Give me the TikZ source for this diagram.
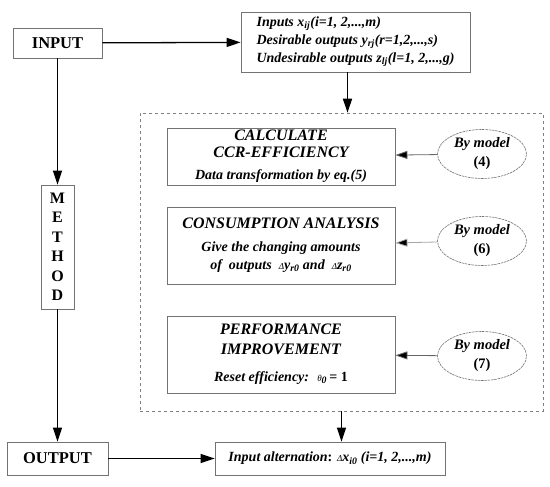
\documentclass[tikz,border=0pt]{standalone}
\usepackage{fontspec}
\setmainfont{Liberation Serif}
\usepackage{tikz}
\usetikzlibrary{arrows.meta,shapes.geometric}

\newcommand\hdfont{\fontsize{16}{16}\selectfont}
\newcommand\bdfont{\fontsize{14}{18}\selectfont}

\begin{document}
\begin{tikzpicture}[x=1pt,y=-1pt,
  box/.style={draw=black!55,line width=0.8pt,fill=white,inner sep=0pt,font=\bfseries\itshape\bdfont},
  mainbox/.style={draw=black!55,line width=0.8pt,inner sep=0pt,font=\bfseries\fontsize{16.5}{20}\selectfont},
  model/.style={ellipse,draw=black!55,dash pattern=on 2.5pt off 0.8pt,line width=0.6pt,inner sep=0pt,minimum width=89pt,minimum height=49pt,align=center,font=\bfseries\fontsize{14.5}{19}\selectfont},
  arr/.style={line width=1.3pt,-{Triangle[length=14pt,width=9pt]}},
  feed/.style={line width=0.8pt,draw=black!60,-{Triangle[length=12pt,width=8pt,fill=black]}}]
  \useasboundingbox (0,0) rectangle (550,487);

  \node[draw=black!50,dashed,line width=0.5pt,minimum width=403pt,minimum height=298pt] (frame) at (341.5,262) {};

  \node[mainbox,minimum width=89pt,minimum height=30pt] (input) at (57.5,43) {INPUT};
  \node[mainbox,minimum width=33pt,minimum height=124pt,align=center,font=\bfseries\fontsize{16}{19.5}\selectfont] (method) at (57.5,247) {M\\E\\T\\H\\O\\D};
  \node[mainbox,minimum width=101pt,minimum height=33pt] (output) at (57.5,458.5) {OUTPUT};

  \node[box,minimum width=229pt,minimum height=60pt,align=left] (data) at (355.5,42) {Inputs x\textsubscript{ij}(i=1, 2,...,m)\\Desirable outputs y\textsubscript{rj}(r=1,2,...,s)\\Undesirable outputs z\textsubscript{lj}(l=1, 2,...,g)};
  \node[box,minimum width=228pt,minimum height=57pt,align=center] (calc) at (281,156.5) {\hdfont CALCULATE\\[-1pt]\hdfont CCR-EFFICIENCY\\[4pt]\bdfont Data transformation by eq.(5)};
  \node[box,minimum width=228pt,minimum height=77pt,align=center] (cons) at (281,245.5) {\hdfont CONSUMPTION ANALYSIS\\[5pt]\bdfont Give the changing amounts\\of~ outputs~ {\mdseries\small Δ}y\textsubscript{r0} and~ {\mdseries\small Δ}z\textsubscript{r0}};
  \node[box,minimum width=228pt,minimum height=77pt,align=center] (perf) at (281,354.5) {\hdfont PERFORMANCE\\[2pt]\hdfont IMPROVEMENT\\[9pt]\bdfont Reset efficiency:~ {\mdseries\small θ}\textsubscript{0}{\upshape\,= 1}};
  \node[box,minimum width=230pt,minimum height=33pt] (alter) at (330,458.5) {Input alternation{\upshape:} {\mdseries\small Δ}x\textsubscript{i0} (i=1, 2,...,m)};

  \node[model] (m4) at (482,154) {\itshape By model\\(4)};
  \node[model] (m6) at (482,241) {\itshape By model\\(6)};
  \node[model] (m7) at (482,356) {\itshape By model\\(7)};

  \draw[arr] (input) -- (data);
  \draw[arr] (input) -- (method);
  \draw[arr] (method) -- (output);
  \draw[arr] (output) -- (alter);
  \draw[arr] ([xshift=-8pt]data.south) -- ([xshift=-8pt]data.south |- frame.north);
  \draw[arr] (frame.south) -- (frame.south |- alter.north);
  \draw[feed] (m4) -- (calc);
  \draw[feed,draw=black!35] (m6) -- (cons);
  \draw[feed] (m7) -- (perf);
\end{tikzpicture}
\end{document}
